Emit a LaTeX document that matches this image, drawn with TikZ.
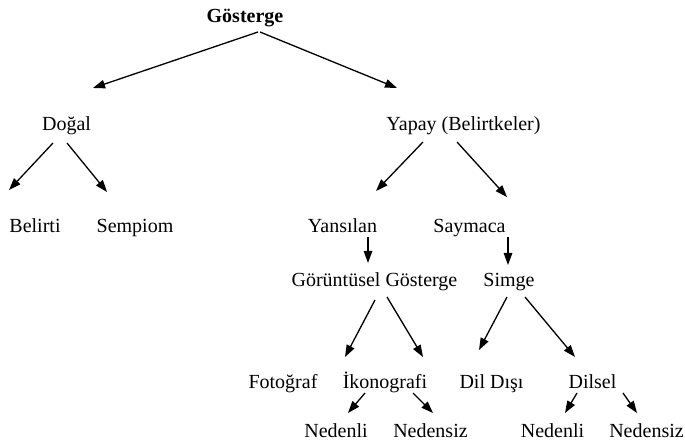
\documentclass[tikz,border=0pt]{standalone}
\usepackage{fontspec}
\setmainfont{Liberation Serif}
\usetikzlibrary{arrows.meta,calc}
\tikzset{
	lbl/.style={anchor=base,inner sep=0pt,font=\fontsize{20}{24}\selectfont},
	arr/.style={line width=1.3pt,-{Triangle[length=12pt,width=8.5pt]}}
}
\begin{document}
\begin{tikzpicture}[x=1pt,y=-1pt]
		\useasboundingbox (0,0) rectangle (685,446);
		% levels
		\node[lbl,font=\fontsize{20}{24}\selectfont\bfseries] (gos) at (245,23) {Gösterge};
		\node[lbl] (dogal) at (66.5,131) {Doğal};
		\node[lbl] (yapay) at (463.5,131) {Yapay (Belirtkeler)};
		\node[lbl] (belirti) at (35,233) {Belirti};
		\node[lbl] (sempiom) at (135,233) {Sempiom};
		\node[lbl] (yansilan) at (342.5,233) {Yansılan};
		\node[lbl] (saymaca) at (469.5,233) {Saymaca};
		\node[lbl] (goruntu) at (374.5,287) {Görüntüsel Gösterge};
		\node[lbl] (simge) at (509,287) {Simge};
		\node[lbl] (fotograf) at (283,388) {Fotoğraf};
		\node[lbl] (ikono) at (385,388) {İkonografi};
		\node[lbl] (dildisi) at (491.5,388) {Dil Dışı};
		\node[lbl] (dilsel) at (592.5,388) {Dilsel};
		\node[lbl] (nedenliA) at (336,437) {Nedenli};
		\node[lbl] (nedensizA) at (430.5,437) {Nedensiz};
		\node[lbl] (nedenliB) at (552.5,437) {Nedenli};
		\node[lbl] (nedensizB) at (646.5,437) {Nedensiz};
		% arrows
		\draw[arr] ($(gos.base)+(13,9)$) -- ($(dogal.base)+(26.5,-43)$);
		\draw[arr] ($(gos.base)+(15,9)$) -- ($(yapay.base)+(-66.5,-43)$);
		\draw[arr] ($(dogal.base)+(-13.5,12)$) -- ($(belirti.base)+(-26,-43)$);
		\draw[arr] ($(dogal.base)+(0.5,12)$) -- ($(sempiom.base)+(-28,-41)$);
		\draw[arr] ($(yapay.base)+(-40.5,11)$) -- ($(yansilan.base)+(33.5,-42)$);
		\draw[arr] ($(yapay.base)+(-6.5,11)$) -- ($(saymaca.base)+(37.5,-36)$);
		\draw[arr] ($(yansilan.base)+(25.5,4)$) -- ($(goruntu.base)+(-6.5,-24)$);
		\draw[arr] ($(saymaca.base)+(38.5,4)$) -- ($(simge.base)+(-1,-22)$);
		\draw[arr] ($(goruntu.base)+(0.5,13)$) -- ($(fotograf.base)+(62,-31)$);
		\draw[arr] ($(goruntu.base)+(12.5,10)$) -- ($(ikono.base)+(38,-31)$);
		\draw[arr] ($(simge.base)+(-2,10)$) -- ($(dildisi.base)+(-12.5,-38)$);
		\draw[arr] ($(simge.base)+(16,10)$) -- ($(dilsel.base)+(-17.5,-31)$);
		\draw[arr] ($(ikono.base)+(-20,5)$) -- ($(nedenliA.base)+(12,-24)$);
		\draw[arr] ($(ikono.base)+(28,5)$) -- ($(nedensizA.base)+(2.5,-24)$);
		\draw[arr] ($(dilsel.base)+(-15.5,5)$) -- ($(nedenliB.base)+(12.5,-24)$);
		\draw[arr] ($(dilsel.base)+(30.5,5)$) -- ($(nedensizB.base)+(-9.5,-24)$);
	\end{tikzpicture}
\end{document}
